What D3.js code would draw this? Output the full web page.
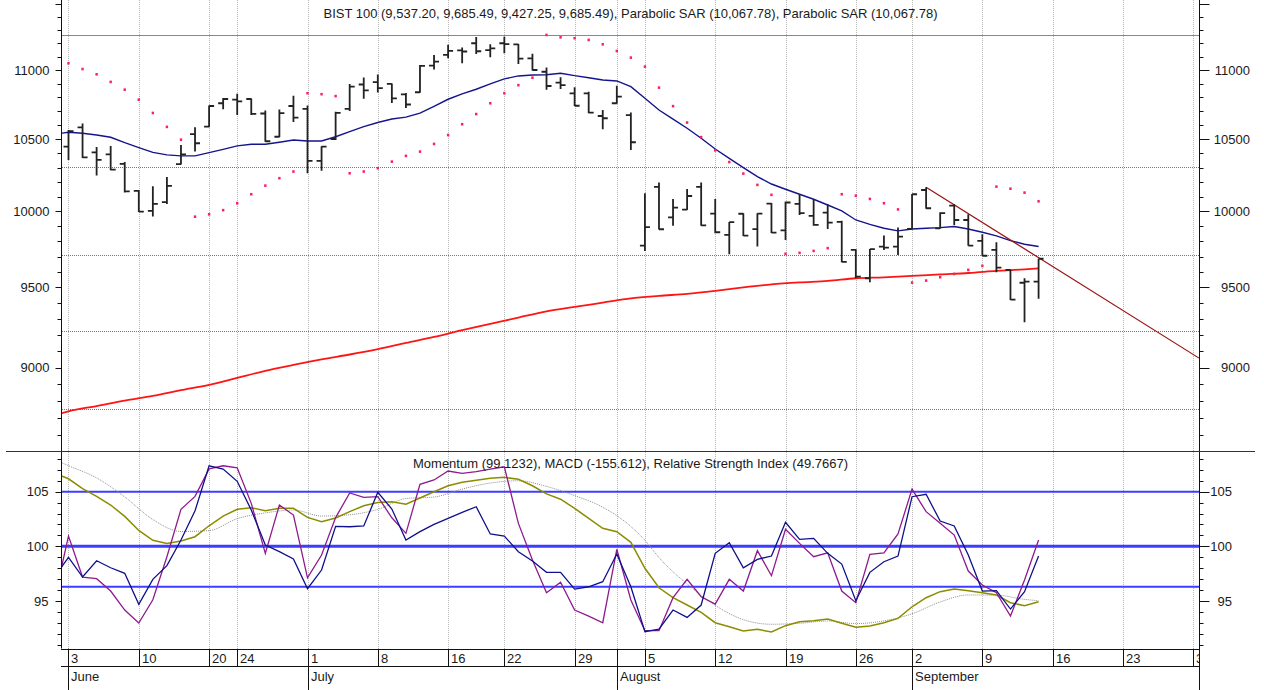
<!DOCTYPE html>
<html><head><meta charset="utf-8">
<script src="https://cdn.jsdelivr.net/npm/d3@7"></script>
<style>
html,body{margin:0;padding:0;background:#fff;}
svg{display:block;font-family:"Liberation Sans",Arial,sans-serif;}
</style></head><body>
<svg id="chart" width="1264" height="690"></svg>
<script>
// ---------------- DATA ----------------
const priorDate = "2024-05-31";
const tradingDates = [
"2024-06-03","2024-06-04","2024-06-05","2024-06-06","2024-06-07","2024-06-10","2024-06-11","2024-06-12","2024-06-13","2024-06-14","2024-06-20","2024-06-21","2024-06-24","2024-06-25","2024-06-26","2024-06-27","2024-06-28",
"2024-07-01","2024-07-02","2024-07-03","2024-07-04","2024-07-05","2024-07-08","2024-07-09","2024-07-10","2024-07-11","2024-07-12","2024-07-16","2024-07-17","2024-07-18","2024-07-19","2024-07-22","2024-07-23","2024-07-24","2024-07-25","2024-07-26","2024-07-29","2024-07-30","2024-07-31",
"2024-08-01","2024-08-02","2024-08-05","2024-08-06","2024-08-07","2024-08-08","2024-08-09","2024-08-12","2024-08-13","2024-08-14","2024-08-15","2024-08-16","2024-08-19","2024-08-20","2024-08-21","2024-08-22","2024-08-23","2024-08-26","2024-08-27","2024-08-28","2024-08-29",
"2024-09-02","2024-09-03","2024-09-04","2024-09-05","2024-09-06","2024-09-09","2024-09-10","2024-09-11","2024-09-12","2024-09-13"];
const futureDates = ["2024-09-16","2024-09-17","2024-09-18","2024-09-19","2024-09-20","2024-09-23","2024-09-24","2024-09-25","2024-09-26","2024-09-27","2024-09-30"];

const open = [10446,10582,10406,10392,10325,10139,10003,10062,10323,10534,
10588,10756,10783,10787,10682,10516,10736,10715,10346,10500,
10715,10893,10911,10897,10821,10836,11032,11112,11147,11200,
11149,11200,11192,11087,10987,10906,10828,10828,10664,10756,
10671,9772,10166,9960,10012,10166,9985,9842,9984,9881,
10052,9873,10051,9969,9992,9929,9743,9559,9765,9765,
9882,10145,9886,10039,9942,9803,9743,9613,9530,9537.20];
const high = [10564,10610,10444,10451,10339,10145,10171,10235,10458,10583,
10740,10794,10826,10791,10704,10711,10811,10740,10449,10695,
10897,10945,10967,10900,10831,11037,11112,11189,11168,11247,
11193,11250,11195,11121,11019,10946,10872,10840,10707,10883,
10689,10123,10197,10084,10151,10197,10083,9928,9988,9988,
10057,10066,10117,10084,10048,9936,9747,9750,9838,9891,
10118,10164,9994,10048,9981,9847,9794,9615,9559,9685.49];
const low = [10353,10367,10244,10281,10128,9996,9965,10050,10321,10411,
10583,10712,10671,10671,10481,10512,10621,10260,10278,10493,
10700,10788,10834,10758,10722,10833,11004,11087,11050,11119,
11094,11124,11045,10996,10855,10859,10736,10684,10569,10753,
10423,9737,9879,9904,10009,9904,9853,9715,9836,9766,
9855,9809,9976,9904,9882,9663,9559,9533,9743,9710,
9880,10018,9885,9909,9771,9704,9598,9420,9280,9427.25];
const close = [10555,10370,10353,10285,10135,9998,10050,10173,10392,10470,
10736,10787,10770,10679,10484,10684,10652,10346,10446,10686,
10878,10850,10867,10791,10747,11030,11062,11142,11138,11140,
11162,11194,11085,11000,10882,10889,10738,10688,10648,10804,
10477,9894,9880,10025,10104,9906,9860,9927,9838,9985,
9857,10060,9988,9909,9924,9665,9570,9748,9758,9831,
10116,10021,9988,9942,9772,9705,9628,9422,9537,9685.49];

// Parabolic SAR (one value per trading day)
const sar = [11050,11007,10968,10912,10855,10782,10686,10586,10495,9964,
9980,10008,10055,10116,10175,10226,10272,10829,10822,10808,
10260,10272,10295,10341,10381,10411,10465,10528,10605,10678,
10756,10829,10888,10943,11263,11245,11238,11225,11192,11142,
11092,11025,10870,10735,10617,10513,10420,10338,10258,10180,
10112,9718,9724,9737,9755,10116,10106,10084,10055,10013,
9531,9544,9566,9587,9613,9639,10168,10154,10127,10067.78];

// Short moving average (navy), first value belongs to priorDate
const maShort = [10534,
10548,10541,10528,10512,10474,10439,10406,10388,10381,10381,
10404,10427,10451,10463,10463,10477,10493,10486,10486,10516,
10552,10588,10617,10642,10656,10685,10734,10785,10824,10858,
10897,10934,10956,10963,10965,10976,10958,10943,10926,10919,
10877,10792,10707,10642,10576,10505,10429,10364,10299,10237,
10186,10150,10116,10082,10043,10003,9942,9913,9887,9869,
9882,9887,9891,9898,9882,9860,9836,9805,9781,9766];

// Long moving average (red), read at every second bar (bar number, -1 = priorDate)
const maLongBar = [-1,0,2,4,6,8,10,12,14,16,18,20,22,24,26,28,30,32,34,36,38,40,42,44,46,48,50,52,54,56,58,60,62,64,66,68,69];
const maLongVal = [8715,8739,8770,8802,8830,8864,8896,8938,8980,9016,9050,9080,9113,9151,9188,9230,9269,9309,9348,9376,9403,9430,9446,9459,9478,9500,9519,9532,9542,9559,9565,9574,9584,9593,9606,9617,9623];

// Trend line anchors [date, value]
const trendAnchors = [["2024-09-03",10164],["2024-09-30",9080]];

// Horizontal price levels
const solidLevels = [11262];
const dottedLevels = [10302,9709,9227,8754];

// Lower panel (plotted on the momentum scale), first value belongs to priorDate
const momentum = [97.2,
98.99,97.19,98.68,98.04,97.53,94.70,96.98,98.23,100.58,103.25,
107.37,107.07,105.95,103.32,100.12,99.51,98.84,96.12,97.83,101.83,
101.79,101.86,104.94,103.41,100.58,101.34,102.01,102.56,103.11,103.62,
101.13,100.94,99.51,98.66,97.62,97.62,96.09,96.30,96.76,99.30,
96.30,92.19,92.43,94.17,93.50,94.63,99.36,100.33,98.04,98.81,
99.11,102.20,100.64,100.73,99.36,98.38,95.02,97.62,98.59,99.11,
104.54,104.76,102.31,101.86,99.20,95.91,95.94,94.26,95.85,99.1232];
const rsiLine = [95.2,
100.94,97.19,97.04,95.91,94.17,92.98,95.11,99.05,103.39,104.57,
107.09,107.37,107.19,103.93,99.36,103.78,102.86,97.12,99.20,102.63,
104.88,104.48,104.54,102.61,101.19,105.67,106.07,106.89,106.68,106.83,
107.07,107.28,102.10,98.75,95.75,96.71,94.17,93.62,93.01,99.73,
95.09,92.28,92.28,95.30,96.98,95.39,94.72,96.98,95.91,99.60,
97.31,101.56,100.27,99.05,99.41,95.91,94.84,99.27,99.41,101.13,
105.24,103.17,102.10,101.03,97.74,96.46,95.75,93.62,96.92,100.58];
const macdLine = [106.7,
106.18,105.27,104.57,103.78,102.74,101.45,100.55,100.27,100.48,100.88,
101.88,102.77,103.39,103.53,103.25,103.48,103.48,102.65,102.25,102.59,
103.17,103.71,104.01,104.08,103.85,104.42,104.99,105.54,105.86,106.04,
106.22,106.31,106.13,105.54,104.80,104.31,103.48,102.56,101.65,101.34,
100.37,97.99,96.21,95.30,94.63,93.96,93.01,92.64,92.25,92.41,
92.16,92.74,93.10,93.19,93.35,92.96,92.59,92.71,93.01,93.41,
94.47,95.30,95.85,96.09,95.94,95.75,95.54,94.84,94.57,94.93];
const signalBar = [-1,0,2,4,6,8,10,12,14,16,18,20,22,24,26,28,30,32,34,36,38,40,41,42,44,46,48,50,52,54,56,58,60,62,64,66,68,69];
const signalVal = [107.94,107.38,106.26,104.52,102.45,101.36,101.44,102.53,103.06,103.32,102.77,102.89,103.38,104.37,104.51,105.24,105.79,106.00,105.48,104.64,103.58,101.81,100.55,98.97,96.55,94.60,93.29,92.87,92.96,93.17,92.93,93.18,93.83,94.91,95.55,95.53,95.15,95.02];
const refLevels = [105, 100, 96.3];
const macdLast = -155.612;
const rsiLast = 49.7667;

const priceTicksLabeled = [9000,9500,10000,10500,11000];
const indTicksLabeled = [95,100,105];

// ---------------- LAYOUT ----------------
const svg = d3.select("#chart");
const L = 62, R = 1199, TOP = 0, MID = 451.7, BOT = 648.5;
const parse = d3.timeParse("%Y-%m-%d");
const allDates = tradingDates.concat(futureDates).map(parse);

const x = d3.scaleLinear().domain([-0.462, 80.41]).range([L, R]);
const yP = d3.scaleLog().domain([8504, 11531.5]).range([MID, TOP]);
const yI = d3.scaleLinear().domain([90.67, 108.63]).range([BOT - 0.2, MID + 0.3]);

const defs = svg.append("defs");
defs.append("clipPath").attr("id","cUp").append("rect").attr("x",L).attr("y",TOP).attr("width",R-L).attr("height",MID-TOP);
defs.append("clipPath").attr("id","cLo").append("rect").attr("x",L).attr("y",MID).attr("width",R-L).attr("height",BOT-MID);
defs.append("clipPath").attr("id","cAx").append("rect").attr("x",0).attr("y",BOT).attr("width",R).attr("height",690-BOT);

// ticks from dates
const weekTicks = [], monthTicks = [];
allDates.forEach((d,i) => {
  const p = i > 0 ? allDates[i-1] : null;
  if (!p || +d3.timeMonday.floor(d) !== +d3.timeMonday.floor(p)) weekTicks.push(i);
  if (!p || d.getMonth() !== p.getMonth()) monthTicks.push(i);
});
const gridIdx = Array.from(new Set(weekTicks.concat(monthTicks))).sort((a,b)=>a-b);
const px = v => Math.round(v) + 0.5;

// vertical grid
svg.append("g").selectAll("line").data(gridIdx).join("line")
  .attr("x1", i => px(x(i))).attr("x2", i => px(x(i)))
  .attr("y1", TOP).attr("y2", BOT)
  .attr("stroke", "#b8b8b8").attr("stroke-dasharray", "1,1");

// horizontal price levels
const up = svg.append("g").attr("clip-path","url(#cUp)");
up.selectAll("line.sl").data(solidLevels).join("line").attr("class","sl")
  .attr("x1",L).attr("x2",R).attr("y1",d=>px(yP(d))).attr("y2",d=>px(yP(d)))
  .attr("stroke","#8a8a8a").attr("stroke-width",1);
up.selectAll("line.dl").data(dottedLevels).join("line").attr("class","dl")
  .attr("x1",L).attr("x2",R).attr("y1",d=>px(yP(d))).attr("y2",d=>px(yP(d)))
  .attr("stroke","#777").attr("stroke-width",1).attr("stroke-dasharray","1,1");

// long MA (red)
up.append("path")
  .datum(maLongBar.map((b,k)=>[b, maLongVal[k]]))
  .attr("d", d3.line().x(d=>x(d[0])).y(d=>yP(d[1])).curve(d3.curveMonotoneX))
  .attr("fill","none").attr("stroke","#ff1414").attr("stroke-width",1.8);

// short MA (navy)
up.append("path")
  .datum(maShort.map((v,k)=>[k-1, v]))
  .attr("d", d3.line().x(d=>x(d[0])).y(d=>yP(d[1])))
  .attr("fill","none").attr("stroke","#14148c").attr("stroke-width",1.4);

// trend line (extended to the right edge)
(function(){
  const dateIdx = s => allDates.findIndex(d => +d === +parse(s));
  const i0 = dateIdx(trendAnchors[0][0]), i1 = dateIdx(trendAnchors[1][0]);
  const y0 = yP(trendAnchors[0][1]), y1 = yP(trendAnchors[1][1]);
  const x0 = x(i0), x1 = x(i1);
  const slope = (y1 - y0) / (x1 - x0);
  up.append("line").attr("x1",x0).attr("y1",y0).attr("x2",R).attr("y2",y0 + slope*(R - x0))
    .attr("stroke","#9b1010").attr("stroke-width",1.2);
})();

// OHLC bars
up.append("g").selectAll("path").data(open.map((o,i)=>i)).join("path")
  .attr("d", i => {
    const cx = x(i);
    return `M${cx},${yP(high[i])}V${yP(low[i])}M${cx-5},${yP(open[i])}H${cx}M${cx},${yP(close[i])}H${cx+5}`;
  })
  .attr("fill","none").attr("stroke","#222").attr("stroke-width",1.8);

// SAR dots
up.append("g").selectAll("rect").data(sar).join("rect")
  .attr("x",(d,i)=>x(i)-1.2).attr("y",d=>yP(d)-1.3)
  .attr("width",2.4).attr("height",2.6).attr("fill","#ff1f5c");

// ---------------- lower panel ----------------
const lo = svg.append("g").attr("clip-path","url(#cLo)");
const refW = [2, 3, 2];
lo.selectAll("line.ref").data(refLevels).join("line").attr("class","ref")
  .attr("x1",L).attr("x2",R).attr("y1",d=>yI(d)).attr("y2",d=>yI(d))
  .attr("stroke","#3d3dff").attr("stroke-width",(d,i)=>refW[i]);

const lineI = d3.line().x(d=>x(d[0])).y(d=>yI(d[1]));
lo.append("path").datum(signalBar.map((b,k)=>[b, signalVal[k]]))
  .attr("d", d3.line().x(d=>x(d[0])).y(d=>yI(d[1])).curve(d3.curveMonotoneX))
  .attr("fill","none").attr("stroke","#8f8f8f").attr("stroke-width",1).attr("stroke-dasharray","1,1");
lo.append("path").datum(macdLine.map((v,k)=>[k-1,v])).attr("d", lineI)
  .attr("fill","none").attr("stroke","#8c8c00").attr("stroke-width",1.5);
lo.append("path").datum(rsiLine.map((v,k)=>[k-1,v])).attr("d", lineI)
  .attr("fill","none").attr("stroke","#8e1a8e").attr("stroke-width",1.3);
lo.append("path").datum(momentum.map((v,k)=>[k-1,v])).attr("d", lineI)
  .attr("fill","none").attr("stroke","#10108c").attr("stroke-width",1.3);

// ---------------- frame / axes ----------------
const ink = "#111";
svg.append("line").attr("x1",px(L)-1).attr("x2",px(L)-1).attr("y1",0).attr("y2",BOT).attr("stroke",ink);
svg.append("line").attr("x1",px(R)).attr("x2",px(R)).attr("y1",0).attr("y2",690).attr("stroke",ink);
svg.append("line").attr("x1",6).attr("x2",1255).attr("y1",px(MID)-1).attr("y2",px(MID)-1).attr("stroke","#333");
svg.append("line").attr("x1",L-1).attr("x2",R).attr("y1",px(BOT)).attr("y2",px(BOT)).attr("stroke",ink);
svg.append("line").attr("x1",L-1).attr("x2",R).attr("y1",666.5).attr("y2",666.5).attr("stroke",ink);

const fs = "13px";
// price axis ticks
const priceTicks = d3.range(8600, 11501, 100);
const isMajor = v => v % 500 === 0;
const ga = svg.append("g").attr("stroke",ink);
priceTicks.forEach(v => {
  const yy = px(yP(v));
  ga.append("line").attr("x1",px(L)-1).attr("x2",px(L)-1-(isMajor(v)?6:4)).attr("y1",yy).attr("y2",yy);
  ga.append("line").attr("x1",px(R)).attr("x2",px(R)+(isMajor(v)?10:4)).attr("y1",yy).attr("y2",yy);
});
const lab = svg.append("g").attr("fill","#1a1a1a").style("font-size",fs);
priceTicksLabeled.forEach(v => {
  lab.append("text").attr("x",49.5).attr("y",yP(v)+4.7).attr("text-anchor","end").text(v);
  lab.append("text").attr("x",1250).attr("y",yP(v)+4.7).attr("text-anchor","end").text(v);
});
// indicator axis ticks
d3.range(91, 109).forEach(v => {
  const yy = px(yI(v));
  const mj = v % 5 === 0;
  ga.append("line").attr("x1",px(L)-1).attr("x2",px(L)-1-(mj?6:4)).attr("y1",yy).attr("y2",yy);
  ga.append("line").attr("x1",px(R)).attr("x2",px(R)+(mj?10:4)).attr("y1",yy).attr("y2",yy);
});
indTicksLabeled.forEach(v => {
  lab.append("text").attr("x",48.5).attr("y",yI(v)+4.7).attr("text-anchor","end").text(v);
  lab.append("text").attr("x",1232).attr("y",yI(v)+4.7).attr("text-anchor","end").text(v);
});

// date axis
const ax = svg.append("g").attr("clip-path","url(#cAx)");
weekTicks.forEach(i => {
  const xx = px(x(i));
  ax.append("line").attr("x1",xx).attr("x2",xx).attr("y1",BOT).attr("y2",666.5).attr("stroke",ink);
  ax.append("text").attr("x",xx+2.5).attr("y",663).style("font-size",fs).attr("fill","#1a1a1a")
    .text(allDates[i].getDate());
});
const monthName = d3.timeFormat("%B");
monthTicks.forEach(i => {
  const xx = px(x(i));
  ax.append("line").attr("x1",xx).attr("x2",xx).attr("y1",BOT).attr("y2",690).attr("stroke",ink);
  ax.append("text").attr("x",xx+2.5).attr("y",680.5).style("font-size",fs).attr("fill","#1a1a1a")
    .text(monthName(allDates[i]));
});

// titles
const f2 = d3.format(",.2f");
const n = close.length - 1;
svg.append("text").attr("x",(L+R)/2).attr("y",18.3).attr("text-anchor","middle")
  .style("font-size",fs).attr("fill","#1a1a1a")
  .text(`BIST 100 (${f2(open[n])}, ${f2(high[n])}, ${f2(low[n])}, ${f2(close[n])}), Parabolic SAR (${f2(sar[n])}), Parabolic SAR (${f2(sar[n])})`);
svg.append("text").attr("x",(L+R)/2).attr("y",467.5).attr("text-anchor","middle")
  .style("font-size",fs).attr("fill","#1a1a1a")
  .text(`Momentum (${d3.format(".4f")(momentum[momentum.length-1])}), MACD (${macdLast}), Relative Strength Index (${rsiLast})`);
</script>
</body></html>
